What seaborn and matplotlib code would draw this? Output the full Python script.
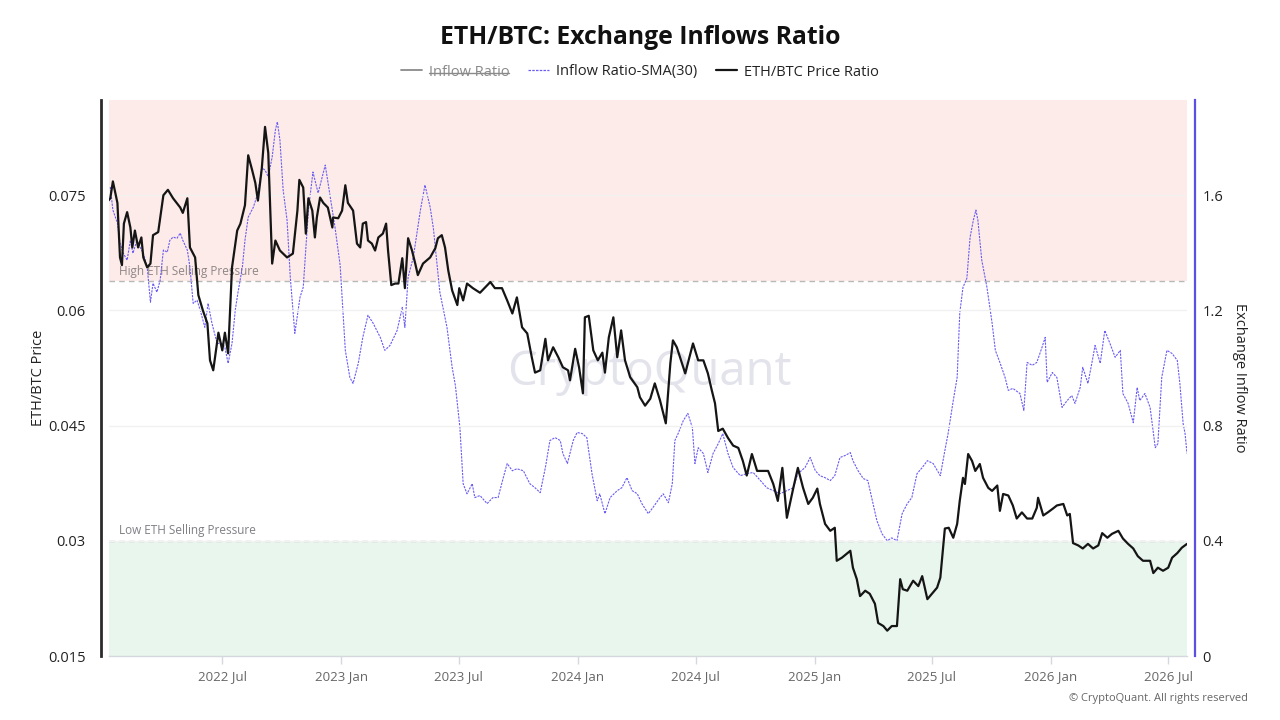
import matplotlib
matplotlib.use("Agg")
import matplotlib.pyplot as plt
from matplotlib.lines import Line2D
import pandas as pd
import seaborn as sns

# ---------------- data ----------------
price_dates = [
"2022-01-06","2022-01-09","2022-01-13","2022-01-20","2022-01-24","2022-01-27","2022-01-30","2022-02-04","2022-02-09","2022-02-12",
"2022-02-16","2022-02-21","2022-02-26","2022-03-01","2022-03-07","2022-03-12","2022-03-16","2022-03-24","2022-04-01","2022-04-08",
"2022-04-16","2022-04-27","2022-05-01","2022-05-08","2022-05-09","2022-05-12","2022-05-20","2022-05-25","2022-06-01","2022-06-08",
"2022-06-12","2022-06-17","2022-06-25","2022-07-01","2022-07-05","2022-07-10","2022-07-16","2022-07-24","2022-07-29","2022-08-05",
"2022-08-10","2022-08-16","2022-08-21","2022-08-25","2022-08-31","2022-09-05","2022-09-10","2022-09-16","2022-09-21","2022-09-28",
"2022-10-09","2022-10-18","2022-10-25","2022-10-28","2022-11-03","2022-11-07","2022-11-11","2022-11-17","2022-11-21","2022-11-24",
"2022-11-29","2022-12-04","2022-12-11","2022-12-18","2022-12-19","2022-12-27","2023-01-02","2023-01-07","2023-01-11","2023-01-19",
"2023-01-25","2023-01-30","2023-02-03","2023-02-08","2023-02-11","2023-02-17","2023-02-22","2023-02-27","2023-03-06","2023-03-11",
"2023-03-14","2023-03-19","2023-03-25","2023-03-30","2023-04-05","2023-04-09","2023-04-14","2023-04-20","2023-04-25","2023-04-29",
"2023-05-07","2023-05-18","2023-05-26","2023-05-30","2023-06-05","2023-06-10","2023-06-15","2023-06-21","2023-06-29","2023-07-02",
"2023-07-08","2023-07-14","2023-07-23","2023-08-03","2023-08-19","2023-08-26","2023-09-06","2023-09-14","2023-09-22","2023-09-29",
"2023-10-07","2023-10-15","2023-10-22","2023-10-27","2023-11-04","2023-11-12","2023-11-16","2023-11-24","2023-12-02","2023-12-09",
"2023-12-17","2023-12-20","2023-12-28","2024-01-03","2024-01-09","2024-01-12","2024-01-18","2024-01-25","2024-02-01","2024-02-08",
"2024-02-12","2024-02-18","2024-02-25","2024-03-02","2024-03-08","2024-03-14","2024-03-22","2024-04-02","2024-04-06","2024-04-14",
"2024-04-22","2024-04-29","2024-05-07","2024-05-16","2024-05-23","2024-05-27","2024-06-02","2024-06-10","2024-06-15","2024-06-22",
"2024-06-27","2024-07-05","2024-07-13","2024-07-20","2024-07-26","2024-07-31","2024-08-05","2024-08-12","2024-08-20","2024-08-28",
"2024-09-05","2024-09-12","2024-09-18","2024-09-26","2024-10-04","2024-10-12","2024-10-21","2024-10-29","2024-11-05","2024-11-12",
"2024-11-19","2024-11-29","2024-12-06","2024-12-14","2024-12-22","2024-12-29","2025-01-05","2025-01-09","2025-01-17","2025-01-25",
"2025-02-01","2025-02-04","2025-02-12","2025-02-25","2025-03-01","2025-03-07","2025-03-12","2025-03-20","2025-03-27","2025-04-04",
"2025-04-09","2025-04-17","2025-04-23","2025-04-30","2025-05-08","2025-05-13","2025-05-17","2025-05-24","2025-06-02","2025-06-10",
"2025-06-16","2025-06-24","2025-07-01","2025-07-09","2025-07-14","2025-07-21","2025-07-27","2025-08-03","2025-08-09","2025-08-13",
"2025-08-18","2025-08-21","2025-08-26","2025-09-01","2025-09-06","2025-09-13","2025-09-18","2025-09-26","2025-10-02","2025-10-10",
"2025-10-14","2025-10-19","2025-10-27","2025-11-03","2025-11-09","2025-11-17","2025-11-25","2025-12-03","2025-12-10","2025-12-12",
"2025-12-20","2025-12-27","2026-01-04","2026-01-10","2026-01-20","2026-01-26","2026-01-30","2026-02-04","2026-02-12","2026-02-19",
"2026-02-27","2026-03-07","2026-03-15","2026-03-21","2026-03-29","2026-04-05","2026-04-15","2026-04-22","2026-04-30","2026-05-08",
"2026-05-15","2026-05-23","2026-06-03","2026-06-08","2026-06-15","2026-06-23","2026-07-01","2026-07-07","2026-07-15","2026-07-22",
"2026-07-30"]

price_ratio = [
0.0743,0.0746,0.0768,0.0740,0.0669,0.0659,0.0713,0.0728,0.0708,0.0682,
0.0704,0.0682,0.0695,0.0669,0.0656,0.0661,0.0698,0.0702,0.0750,0.0757,
0.0746,0.0734,0.0727,0.0746,0.0730,0.0682,0.0669,0.0620,0.0600,0.0583,
0.0535,0.0522,0.0571,0.0548,0.0571,0.0544,0.0656,0.0704,0.0713,0.0737,
0.0802,0.0783,0.0766,0.0743,0.0785,0.0839,0.0805,0.0661,0.0691,0.0678,
0.0669,0.0674,0.0730,0.0770,0.0760,0.0700,0.0746,0.0730,0.0695,0.0721,
0.0747,0.0740,0.0734,0.0708,0.0721,0.0720,0.0730,0.0763,0.0740,0.0730,
0.0687,0.0682,0.0713,0.0715,0.0691,0.0687,0.0678,0.0695,0.0700,0.0713,
0.0678,0.0633,0.0635,0.0635,0.0668,0.0629,0.0694,0.0678,0.0661,0.0646,
0.0661,0.0669,0.0681,0.0694,0.0698,0.0682,0.0652,0.0626,0.0607,0.0629,
0.0613,0.0635,0.0629,0.0623,0.0637,0.0629,0.0629,0.0613,0.0596,0.0617,
0.0578,0.0570,0.0539,0.0519,0.0522,0.0563,0.0535,0.0552,0.0539,0.0526,
0.0522,0.0509,0.0550,0.0526,0.0492,0.0591,0.0593,0.0548,0.0535,0.0545,
0.0519,0.0565,0.0591,0.0539,0.0574,0.0535,0.0513,0.0500,0.0487,0.0476,
0.0485,0.0505,0.0483,0.0453,0.0531,0.0561,0.0552,0.0531,0.0518,0.0541,
0.0557,0.0535,0.0535,0.0518,0.0496,0.0479,0.0443,0.0446,0.0434,0.0424,
0.0421,0.0404,0.0385,0.0413,0.0391,0.0391,0.0391,0.0374,0.0352,0.0395,
0.0330,0.0369,0.0395,0.0369,0.0348,0.0356,0.0368,0.0348,0.0322,0.0313,
0.0317,0.0274,0.0278,0.0287,0.0265,0.0250,0.0228,0.0235,0.0231,0.0218,
0.0193,0.0189,0.0183,0.0189,0.0189,0.0250,0.0237,0.0235,0.0248,0.0241,
0.0254,0.0224,0.0231,0.0239,0.0252,0.0316,0.0317,0.0304,0.0322,0.0352,
0.0382,0.0374,0.0413,0.0404,0.0391,0.0400,0.0382,0.0369,0.0365,0.0372,
0.0339,0.0361,0.0359,0.0346,0.0329,0.0337,0.0329,0.0329,0.0343,0.0356,
0.0333,0.0337,0.0342,0.0346,0.0348,0.0333,0.0335,0.0297,0.0294,0.0290,
0.0296,0.0290,0.0294,0.0310,0.0304,0.0309,0.0313,0.0303,0.0296,0.0290,
0.0280,0.0274,0.0274,0.0258,0.0265,0.0261,0.0265,0.0278,0.0284,0.0291,
0.0296]

sma_dates = [
"2022-01-09","2022-01-13","2022-01-20","2022-01-24","2022-01-29","2022-02-04","2022-02-09","2022-02-13","2022-02-19","2022-02-24",
"2022-03-01","2022-03-07","2022-03-12","2022-03-16","2022-03-22","2022-03-27","2022-04-01","2022-04-07","2022-04-11","2022-04-16",
"2022-04-22","2022-04-27","2022-05-01","2022-05-08","2022-05-12","2022-05-17","2022-05-23","2022-05-28","2022-06-04","2022-06-09",
"2022-06-15","2022-06-23","2022-07-01","2022-07-05","2022-07-10","2022-07-16","2022-07-21","2022-07-25","2022-08-01","2022-08-05",
"2022-08-10","2022-08-18","2022-08-25","2022-08-31","2022-09-05","2022-09-10","2022-09-16","2022-09-21","2022-09-24","2022-09-28",
"2022-10-03","2022-10-09","2022-10-14","2022-10-21","2022-10-29","2022-11-03","2022-11-11","2022-11-18","2022-11-26","2022-12-07",
"2022-12-15","2022-12-22","2022-12-30","2023-01-07","2023-01-14","2023-01-19","2023-01-27","2023-02-03","2023-02-11","2023-02-19",
"2023-03-02","2023-03-09","2023-03-17","2023-03-28","2023-04-05","2023-04-09","2023-04-14","2023-04-22","2023-05-03","2023-05-10",
"2023-05-18","2023-05-23","2023-06-02","2023-06-13","2023-06-21","2023-06-26","2023-07-03","2023-07-08","2023-07-14","2023-07-22",
"2023-07-26","2023-08-03","2023-08-14","2023-08-23","2023-08-31","2023-09-08","2023-09-14","2023-09-22","2023-09-29","2023-10-09",
"2023-10-19","2023-10-27","2023-11-04","2023-11-12","2023-11-19","2023-11-27","2023-12-05","2023-12-09","2023-12-16","2023-12-20",
"2023-12-25","2023-12-31","2024-01-08","2024-01-15","2024-01-23","2024-01-31","2024-02-04","2024-02-12","2024-02-20","2024-03-02",
"2024-03-09","2024-03-17","2024-03-25","2024-04-02","2024-04-09","2024-04-19","2024-04-26","2024-05-07","2024-05-12","2024-05-20",
"2024-05-26","2024-05-30","2024-06-04","2024-06-12","2024-06-19","2024-06-26","2024-06-30","2024-07-05","2024-07-13","2024-07-20",
"2024-07-28","2024-08-05","2024-08-12","2024-08-20","2024-08-28","2024-09-08","2024-09-18","2024-09-28","2024-10-09","2024-10-19",
"2024-10-29","2024-11-08","2024-11-19","2024-11-29","2024-12-06","2024-12-17","2024-12-25","2025-01-02","2025-01-09","2025-01-17",
"2025-01-25","2025-02-01","2025-02-09","2025-02-17","2025-02-25","2025-03-01","2025-03-09","2025-03-17","2025-03-24","2025-03-31",
"2025-04-07","2025-04-15","2025-04-23","2025-04-30","2025-05-08","2025-05-16","2025-05-24","2025-05-31","2025-06-08","2025-06-16",
"2025-06-24","2025-07-03","2025-07-14","2025-07-21","2025-07-26","2025-08-03","2025-08-09","2025-08-13","2025-08-18","2025-08-24",
"2025-08-29","2025-09-03","2025-09-07","2025-09-10","2025-09-16","2025-09-24","2025-10-02","2025-10-07","2025-10-14","2025-10-22",
"2025-10-27","2025-11-03","2025-11-14","2025-11-20","2025-11-25","2025-12-03","2025-12-10","2025-12-18","2025-12-23","2025-12-26",
"2026-01-03","2026-01-10","2026-01-18","2026-01-26","2026-02-02","2026-02-07","2026-02-15","2026-02-19","2026-02-27","2026-03-05",
"2026-03-10","2026-03-18","2026-03-25","2026-04-02","2026-04-10","2026-04-18","2026-04-22","2026-04-30","2026-05-08","2026-05-14",
"2026-05-18","2026-05-26","2026-06-03","2026-06-11","2026-06-15","2026-06-21","2026-06-29","2026-07-07","2026-07-15","2026-07-19",
"2026-07-24","2026-07-27","2026-07-30"]

inflow_sma30 = [
1.628,1.548,1.503,1.433,1.398,1.374,1.443,1.398,1.443,1.419,
1.398,1.350,1.228,1.294,1.263,1.304,1.409,1.402,1.443,1.454,
1.450,1.468,1.443,1.409,1.350,1.224,1.235,1.200,1.141,1.224,
1.155,1.085,1.085,1.071,1.016,1.085,1.200,1.259,1.350,1.443,
1.523,1.558,1.607,1.694,1.687,1.663,1.732,1.826,1.854,1.791,
1.617,1.513,1.315,1.120,1.245,1.280,1.548,1.680,1.607,1.704,
1.590,1.489,1.357,1.061,0.967,0.946,1.016,1.106,1.183,1.155,
1.106,1.061,1.078,1.130,1.210,1.141,1.315,1.384,1.548,1.635,
1.558,1.485,1.263,1.141,1.002,0.939,0.793,0.598,0.563,0.598,
0.550,0.557,0.529,0.550,0.550,0.619,0.668,0.643,0.650,0.643,
0.598,0.584,0.567,0.654,0.748,0.758,0.748,0.703,0.668,0.703,
0.748,0.776,0.772,0.758,0.633,0.539,0.563,0.494,0.550,0.574,
0.584,0.619,0.574,0.563,0.529,0.494,0.515,0.550,0.563,0.532,
0.598,0.748,0.772,0.817,0.842,0.793,0.668,0.723,0.703,0.637,
0.703,0.737,0.772,0.703,0.654,0.626,0.633,0.637,0.609,0.584,
0.574,0.563,0.574,0.584,0.633,0.654,0.689,0.643,0.626,0.619,
0.609,0.626,0.689,0.696,0.706,0.678,0.643,0.616,0.609,0.539,
0.470,0.424,0.400,0.410,0.400,0.494,0.529,0.550,0.633,0.654,
0.678,0.668,0.626,0.713,0.772,0.887,0.967,1.190,1.280,1.311,
1.454,1.513,1.548,1.513,1.374,1.280,1.155,1.061,1.019,0.967,
0.922,0.929,0.911,0.852,1.019,1.009,1.019,1.071,1.106,0.950,
0.984,0.967,0.863,0.887,0.904,0.877,0.932,1.002,0.946,1.016,
1.078,1.016,1.130,1.085,1.037,1.061,0.911,0.877,0.810,0.932,
0.887,0.911,0.863,0.723,0.737,0.967,1.061,1.050,1.026,0.946,
0.807,0.772,0.703]

high_pressure_level = 1.3
low_pressure_level = 0.4

x_tick_dates = ["2022-07-01","2023-01-01","2023-07-01","2024-01-01","2024-07-01",
                "2025-01-01","2025-07-01","2026-01-01","2026-07-01"]
x_tick_labels = ["2022 Jul","2023 Jan","2023 Jul","2024 Jan","2024 Jul",
                 "2025 Jan","2025 Jul","2026 Jan","2026 Jul"]
left_ticks = [0.015, 0.03, 0.045, 0.06, 0.075]
left_tick_labels = ["0.015", "0.03", "0.045", "0.06", "0.075"]
right_ticks = [0, 0.4, 0.8, 1.2, 1.6]
right_tick_labels = ["0", "0.4", "0.8", "1.2", "1.6"]

# ---------------- styling ----------------
sns.set_theme(style="white")
plt.rcParams["font.family"] = ["Open Sans", "DejaVu Sans"]

PURPLE = "#6a5cf2"
SPINE_PURPLE = "#5b4fe6"
BLACK = "#151515"
PINK = "#fcebe8"
GREEN = "#e9f6ee"
GRAY_TXT = "#666666"

price_df = pd.DataFrame({"date": pd.to_datetime(price_dates), "price": price_ratio})
sma_df = pd.DataFrame({"date": pd.to_datetime(sma_dates), "sma": inflow_sma30})

fig = plt.figure(figsize=(12.8, 7.2), dpi=100)
ax = fig.add_axes([109/1280, 1-656/720, 1078/1280, 556/720])
ax2 = ax.twinx()

# right axis (inflow ratio): bands, threshold lines, SMA line
ax2.axhspan(high_pressure_level, 1.93, color=PINK, zorder=0, lw=0)
ax2.axhspan(0, low_pressure_level, color=GREEN, zorder=0, lw=0)
ax2.axhline(high_pressure_level, color="#b8b8b8", lw=1, ls=(0, (4, 3)), zorder=1)
ax2.axhline(low_pressure_level, color="#b8b8b8", lw=1, ls=(0, (4, 3)), zorder=1)
ax2.text(0.009, high_pressure_level + 0.012, "High ETH Selling Pressure",
         transform=ax2.get_yaxis_transform(), fontsize=8.5, color="#8f8686",
         ha="left", va="bottom", zorder=2)
ax2.text(0.009, low_pressure_level + 0.012, "Low ETH Selling Pressure",
         transform=ax2.get_yaxis_transform(), fontsize=8.5, color="#7f7f86",
         ha="left", va="bottom", zorder=2)
ax2.text(0.501, 0.51, "CryptoQuant", transform=ax2.transAxes, fontsize=34,
         color="#e3e3ec", ha="center", va="center", zorder=1)
sns.lineplot(data=sma_df, x="date", y="sma", ax=ax2, color=PURPLE, linewidth=0.8,
             linestyle=(0, (2, 1)), zorder=3)

# left axis (price ratio)
ax.set_zorder(ax2.get_zorder() + 1)
ax.patch.set_visible(False)
for t in left_ticks:
    ax.axhline(t, color="#f1f1f1", lw=1, zorder=1)
sns.lineplot(data=price_df, x="date", y="price", ax=ax, color=BLACK, linewidth=1.6, zorder=4)

xmin, xmax = pd.Timestamp("2022-01-07"), pd.Timestamp("2026-07-30")
ax.set_xlim(xmin, xmax)
ax.set_ylim(0.015, 0.0874)
ax2.set_ylim(0, 1.93)

ax.set_xticks(pd.to_datetime(x_tick_dates))
ax.set_xticklabels(x_tick_labels)
ax.set_yticks(left_ticks)
ax.set_yticklabels(left_tick_labels)
ax2.set_yticks(right_ticks)
ax2.set_yticklabels(right_tick_labels)

ax.tick_params(axis="x", length=6, width=1, color="#d5d9de", labelsize=9.5,
               labelcolor=GRAY_TXT, pad=4, bottom=True)
ax.tick_params(axis="y", length=0, labelsize=10.5, labelcolor="#222222", pad=11)
ax2.tick_params(axis="y", length=0, labelsize=10.5, labelcolor="#222222", pad=5)
ax2.tick_params(axis="x", length=0)

ax.set_xlabel("")
ax.set_ylabel("ETH/BTC Price", fontsize=10.5, color="#222222", labelpad=1)
ax2.set_xlabel("")
ax2.set_ylabel("Exchange Inflow Ratio", fontsize=10.5, color="#222222",
               rotation=270, labelpad=17)

for a in (ax, ax2):
    a.spines["top"].set_visible(False)
    a.grid(False)
ax.spines["right"].set_visible(False)
ax2.spines["left"].set_visible(False)
ax2.spines["bottom"].set_visible(False)
ax.spines["left"].set_position(("outward", 6))
ax.spines["left"].set_color("#2b2b2b")
ax.spines["left"].set_linewidth(2)
ax2.spines["right"].set_position(("outward", 6))
ax2.spines["right"].set_color(SPINE_PURPLE)
ax2.spines["right"].set_linewidth(1.6)
ax.spines["bottom"].set_color("#d5d9de")
ax.spines["bottom"].set_linewidth(1)

# title
fig.text(0.5, 1 - 37/720, "ETH/BTC: Exchange Inflows Ratio", ha="center", va="center",
         fontsize=17.8, fontweight="bold", color="#111111")

# legend
handles = [
    Line2D([], [], color="#8a8a8a", lw=1.3),
    Line2D([], [], color=PURPLE, lw=0.9, ls=(0, (2, 1))),
    Line2D([], [], color=BLACK, lw=1.6),
]
labels = ["Inflow Ratio", "Inflow Ratio-SMA(30)", "ETH/BTC Price Ratio"]
leg = fig.legend(handles, labels, loc="center", bbox_to_anchor=(0.5, 1 - 72/720),
                 ncol=3, frameon=False, fontsize=10.5, handlelength=1.4,
                 handletextpad=0.5, columnspacing=1.3)
leg.get_texts()[0].set_color("#8a8a8a")
for t in leg.get_texts()[1:]:
    t.set_color("#222222")

# copyright
fig.text(1248/1280, 1 - 698/720, "\u00a9 CryptoQuant. All rights reserved",
         ha="right", va="center", fontsize=8, color=GRAY_TXT)

# strike-through over the hidden series' legend label
fig.canvas.draw()
renderer = fig.canvas.get_renderer()
bb = leg.get_texts()[0].get_window_extent(renderer)
inv = fig.transFigure.inverted()
(x0, y0), (x1, y1) = inv.transform([(bb.x0, bb.y0), (bb.x1, bb.y1)])
ymid = y0 + (y1 - y0) * 0.45
fig.add_artist(Line2D([x0, x1], [ymid, ymid], transform=fig.transFigure,
                      color="#8a8a8a", lw=1))

fig.savefig("out.png", dpi=100)
